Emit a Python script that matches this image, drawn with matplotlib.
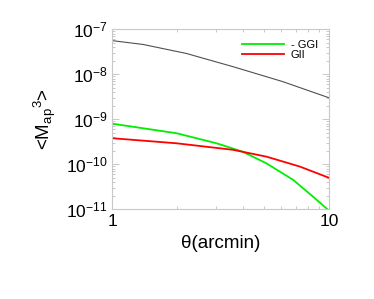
import matplotlib
matplotlib.use("Agg")
import matplotlib.pyplot as plt
from matplotlib.ticker import LogLocator, NullFormatter, FixedLocator, FixedFormatter

plt.rcParams['font.family'] = ['Liberation Sans', 'DejaVu Sans']
plt.rcParams['mathtext.fontset'] = 'custom'
plt.rcParams['mathtext.rm'] = 'Liberation Sans'
plt.rcParams['mathtext.it'] = 'Liberation Sans:italic'

theta_total = [1.0, 1.39, 2.2, 3.6, 6.1, 10.0]
total = [5.6e-8, 4.6e-8, 2.9e-8, 1.48e-8, 6.9e-9, 3.0e-9]

theta_ggi = [1.0, 1.98, 3.03, 4.0, 5.14, 6.83, 8.44, 10.0]
ggi = [8.0e-10, 4.9e-10, 2.93e-10, 1.9e-10, 1.05e-10, 4.5e-11, 1.9e-11, 9.3e-12]

theta_gii = [1.0, 1.98, 3.6, 5.14, 7.33, 10.0]
gii = [3.8e-10, 2.93e-10, 2.1e-10, 1.48e-10, 8.9e-11, 5.0e-11]

fig = plt.figure(figsize=(3.74, 2.99), dpi=100)
ax = fig.add_axes([0.300, 0.300, 0.580, 0.602])

ax.plot(theta_total, total, color='#505050', lw=0.8)
ax.plot(theta_ggi, ggi, color='#00ee00', lw=1.3, label='- GGI')
ax.plot(theta_gii, gii, color='#ff0000', lw=1.3, label='GII')

ax.set_xscale('log')
ax.set_yscale('log')
ax.set_xlim(1, 10)
ax.set_ylim(1e-11, 1e-7)

ax.xaxis.set_major_locator(FixedLocator([1, 10]))
ax.xaxis.set_major_formatter(FixedFormatter(['1', '10']))
ax.xaxis.set_minor_locator(LogLocator(base=10, subs=range(2, 10)))
ax.xaxis.set_minor_formatter(NullFormatter())
ax.yaxis.set_major_locator(LogLocator(base=10, numticks=10))
ax.yaxis.set_minor_locator(LogLocator(base=10, subs=range(2, 10), numticks=10))
ax.yaxis.set_minor_formatter(NullFormatter())

tc = '#c8c8c8'
for s in ax.spines.values():
    s.set_color(tc)
    s.set_linewidth(0.8)
ax.tick_params(which='both', direction='in', top=True, right=True, color=tc,
               labelsize=12.5, width=0.7)
ax.tick_params(which='major', length=5, pad=3.5)
ax.tick_params(which='minor', length=2.5)

ax.set_xlabel(r'θ(arcmin)', fontsize=13.5, labelpad=4)
ax.set_ylabel(r'<M$_{\mathregular{ap}}{}^{\mathregular{3}}$>', fontsize=13.5)
ax.yaxis.set_label_coords(-0.25, 0.5)

leg = ax.legend(loc='upper right', frameon=False, fontsize=8, handlelength=3.8,
                handletextpad=0.6, labelspacing=0.0, borderaxespad=0.3,
                bbox_to_anchor=(0.985, 0.985))

fig.savefig('out.png', dpi=100)
